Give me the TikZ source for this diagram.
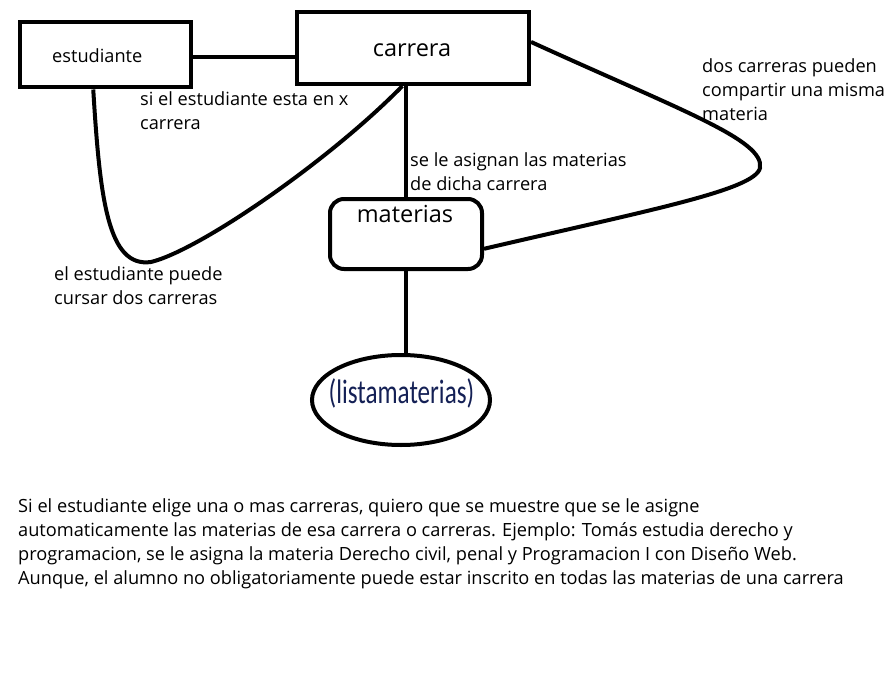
\documentclass[tikz,border=0pt]{standalone}
\usepackage{fontspec}
\setmainfont{Open Sans}
\newfontfamily\calfont{Carlito}
\usetikzlibrary{shapes.geometric,calc}
\definecolor{navy}{RGB}{20,32,85}
\begin{document}
\begin{tikzpicture}[x=1pt,y=-1pt,
  thick line/.style={line width=4pt},
  boxnode/.style={draw,line width=4pt,inner sep=0pt},
  lbl/.style={font=\fontsize{18.2}{24}\selectfont,align=left,anchor=base west,inner sep=0pt},
  big/.style={font=\fontsize{23.5}{26}\selectfont,inner sep=0pt,anchor=base}]
\useasboundingbox (0,0) rectangle (889,698);
% boxes
\node[boxnode,minimum width=171pt,minimum height=65pt] (est) at (105.5,55) {};
\node[boxnode,minimum width=232pt,minimum height=72pt] (car) at (413,48) {};
\node[boxnode,rounded corners=14pt,minimum width=152pt,minimum height=70pt] (mat) at (406,234) {};
\node[draw,line width=4pt,ellipse,minimum width=178pt,minimum height=90pt,inner sep=0pt] (lm) at (401,400) {};
% box texts
\node[lbl] (estT) at (52,62.5) {estudiante};
\node[big] (carT) at (412,57) {carrera};
\node[big] (matT) at (405,222) {materias};
\node[font=\calfont\fontsize{34}{36}\selectfont,text=navy,inner sep=0pt,anchor=base] (lmT) at (401.5,403) {\scalebox{0.74}[1]{(listamaterias)}};
% connectors
\draw[thick line] (est.east |- 0,57) -- (car.west |- 0,57);
\draw[thick line] (mat.north |- car.south) -- (mat.north);
\draw[thick line] (mat.south) -- (mat.south |- lm.north);
\coordinate (c1s) at ($(est.south west)!0.43!(est.south east)$);
\coordinate (c1e) at ($(car.south west)!0.455!(car.south east)$);
\draw[thick line] (c1s) .. controls (100,200) and (108,268) .. (151,262)
  .. controls (200,250) and (330,160) .. (c1e);
\coordinate (c2s) at ($(car.north east)!0.42!(car.south east)$);
\coordinate (c2e) at ($(mat.north east)!0.7!(mat.south east)$);
\draw[thick line] (c2s) .. controls (680,110) and (765,140) .. (760,168)
  .. controls (755,190) and (650,210) .. (c2e);
% labels (anchor = baseline of last line)
\node[lbl] (l1) at (140,130) {si el estudiante esta en x\\carrera};
\node[lbl] (l2) at (410,190) {se le asignan las materias\\de dicha carrera};
\node[lbl] (l3) at (702,120.7) {dos carreras pueden\\compartir una misma\\materia};
\node[lbl] (l4) at (54,304) {el estudiante puede\\cursar dos carreras};
\node[lbl] (l5) at (18,584.7) {Si el estudiante elige una o mas carreras, quiero que se muestre que se le asigne\\automaticamente las materias de esa carrera o carreras. Ejemplo: Tomás estudia derecho y\\programacion, se le asigna la materia Derecho civil, penal y Programacion I con Diseño Web.\\Aunque, el alumno no obligatoriamente puede estar inscrito en todas las materias de una carrera};
\end{tikzpicture}
\end{document}
